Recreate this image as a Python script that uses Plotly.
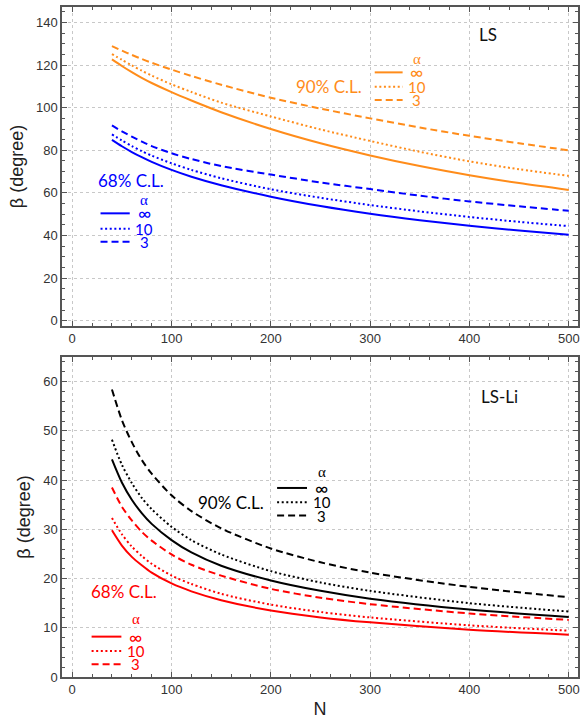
import plotly.graph_objects as go

# ---------------- data ----------------
N_TOP = [40, 50, 60, 70, 80, 100, 120, 150, 200, 250, 300, 350, 400, 450, 500]
LS_90_INF = [122.7, 119.6, 116.7, 114.0, 111.6, 107.3, 103.4, 97.9, 90.0, 83.3, 77.6, 72.6, 68.3, 64.6, 61.4]
LS_90_10 = [125.2, 122.5, 119.9, 117.4, 115.1, 111.0, 107.4, 102.4, 95.9, 89.8, 84.4, 79.3, 74.8, 71.1, 68.0]
LS_90_3 = [128.9, 126.8, 124.8, 122.9, 121.1, 117.9, 114.9, 110.8, 104.7, 99.6, 95.0, 90.7, 86.8, 83.3, 80.0]
LS_68_INF = [84.9, 81.9, 79.2, 76.8, 74.6, 70.8, 67.6, 63.6, 58.2, 53.8, 50.2, 47.2, 44.6, 42.3, 40.3]
LS_68_10 = [87.5, 84.6, 82.0, 79.6, 77.5, 73.9, 70.8, 66.9, 61.7, 57.7, 54.3, 51.3, 48.7, 46.4, 44.4]
LS_68_3 = [91.7, 88.9, 86.4, 84.1, 82.0, 78.6, 75.9, 72.6, 68.6, 64.9, 61.8, 58.7, 56.0, 53.7, 51.6]

N_BOT = [40, 50, 60, 70, 80, 100, 120, 150, 200, 250, 300, 400, 500]
LSLI_90_3 = [58.4, 52.2, 47.7, 44.1, 41.3, 36.9, 33.7, 30.2, 26.1, 23.3, 21.2, 18.3, 16.2]
LSLI_90_10 = [48.2, 43.1, 39.4, 36.4, 34.1, 30.5, 27.8, 24.9, 21.5, 19.2, 17.5, 15.0, 13.3]
LSLI_90_INF = [44.2, 39.5, 36.0, 33.3, 31.1, 27.8, 25.3, 22.6, 19.6, 17.5, 15.9, 13.7, 12.2]
LSLI_68_3 = [38.5, 34.6, 31.8, 29.5, 27.7, 24.9, 22.8, 20.6, 17.9, 16.1, 14.8, 12.9, 11.6]
LSLI_68_10 = [32.3, 29.0, 26.5, 24.6, 23.0, 20.6, 18.9, 16.9, 14.7, 13.2, 12.1, 10.5, 9.4]
LSLI_68_INF = [29.8, 26.7, 24.4, 22.7, 21.2, 19.0, 17.4, 15.6, 13.5, 12.1, 11.1, 9.6, 8.6]

X_TICKS = [0, 100, 200, 300, 400, 500]
Y_TICKS_TOP = [0, 20, 40, 60, 80, 100, 120, 140]
Y_TICKS_BOT = [0, 10, 20, 30, 40, 50, 60]

ALPHA_LABELS = ["α", "∞", "10", "3"]

ORANGE = "#ff8c1a"
BLUE = "#0000ff"
RED = "#ff0000"
BLACK = "#000000"

DASH = {"inf": "solid", "10": "2px,2.6px", "3": "7px,4px"}

fig = go.Figure()


def add_curve(x, y, color, kind, xa, ya):
    fig.add_trace(go.Scatter(
        x=x, y=y, mode="lines", xaxis=xa, yaxis=ya,
        line=dict(color=color, width=2, dash=DASH[kind], shape="spline", smoothing=0.8),
        showlegend=False, hoverinfo="skip"))


add_curve(N_TOP, LS_90_3, ORANGE, "3", "x", "y")
add_curve(N_TOP, LS_90_10, ORANGE, "10", "x", "y")
add_curve(N_TOP, LS_90_INF, ORANGE, "inf", "x", "y")
add_curve(N_TOP, LS_68_3, BLUE, "3", "x", "y")
add_curve(N_TOP, LS_68_10, BLUE, "10", "x", "y")
add_curve(N_TOP, LS_68_INF, BLUE, "inf", "x", "y")

add_curve(N_BOT, LSLI_90_3, BLACK, "3", "x2", "y2")
add_curve(N_BOT, LSLI_90_10, BLACK, "10", "x2", "y2")
add_curve(N_BOT, LSLI_90_INF, BLACK, "inf", "x2", "y2")
add_curve(N_BOT, LSLI_68_3, RED, "3", "x2", "y2")
add_curve(N_BOT, LSLI_68_10, RED, "10", "x2", "y2")
add_curve(N_BOT, LSLI_68_INF, RED, "inf", "x2", "y2")

TXT_FONT = "Lato, 'Open Sans', sans-serif"
SERIF = "'Liberation Serif', 'DejaVu Serif', serif"


def legend_block(xa, ya, color, title, title_xy, alpha_x, alpha_ys, line_x0, line_x1):
    anns = [dict(x=title_xy[0], y=title_xy[1], xref=xa, yref=ya, text=title,
                 showarrow=False, borderpad=0,
                 font=dict(family=TXT_FONT, size=17, color=color))]
    sizes = {"α": 15, "∞": 18, "10": 15, "3": 15}
    for lab, yy in zip(ALPHA_LABELS, alpha_ys):
        fam = SERIF if lab == "α" else TXT_FONT
        anns.append(dict(x=alpha_x, y=yy, xref=xa, yref=ya, text=lab, showarrow=False,
                         borderpad=0, font=dict(family=fam, size=sizes[lab], color=color)))
    for kind, yy in zip(["inf", "10", "3"], alpha_ys[1:]):
        fig.add_trace(go.Scatter(
            x=[line_x0, line_x1], y=[yy, yy], mode="lines", xaxis=xa, yaxis=ya,
            line=dict(color=color, width=2, dash=DASH[kind]),
            showlegend=False, hoverinfo="skip"))
    return anns


annotations = []
annotations += legend_block("x", "y", ORANGE, "90% C.L.", (258.5, 109.9), 346.7,
                            [123.1, 116.6, 109.9, 103.6], 304.6, 332.7)
annotations += legend_block("x", "y", BLUE, "68% C.L.", (59.6, 65.8), 72.3,
                            [56.7, 50.4, 43.2, 37.1], 28.5, 57.9)
annotations += legend_block("x2", "y2", BLACK, "90% C.L.", (160.2, 35.5), 251.5,
                            [41.7, 38.4, 35.5, 32.8], 206.3, 236.4)
annotations += legend_block("x2", "y2", RED, "68% C.L.", (52.6, 17.3), 63.9,
                            [11.7, 8.2, 5.3, 2.6], 19.5, 49.5)
annotations.append(dict(x=419, y=134.5, xref="x", yref="y", text="LS", showarrow=False,
                        font=dict(family=TXT_FONT, size=17, color="#111")))
annotations.append(dict(x=430, y=56.9, xref="x2", yref="y2", text="LS-Li", showarrow=False,
                        font=dict(family=TXT_FONT, size=17, color="#111")))

AX_COLOR = "#555555"
TICK_FONT = dict(family="Liberation Sans, Arial, sans-serif", size=13, color="#333")


def xaxis_cfg(anchor, title=None):
    d = dict(range=[-10.3, 509.3], anchor=anchor, tickvals=X_TICKS, ticks="inside",
             ticklen=5, tickcolor=AX_COLOR, tickwidth=1, showline=True, linecolor=AX_COLOR,
             linewidth=1.5, mirror="allticks", showgrid=True, gridcolor="#c8c8c8",
             griddash="dot", gridwidth=1, zeroline=False, tickfont=TICK_FONT,
             minor=dict(dtick=20, tick0=0, ticks="inside", ticklen=3, tickcolor=AX_COLOR,
                        showgrid=False))
    if title:
        d["title"] = dict(text=title, font=dict(family="Liberation Sans, Arial", size=18,
                                                  color="#222"), standoff=6)
    return d


def yaxis_cfg(anchor, rng, tickvals, minor_dtick, domain):
    return dict(range=rng, anchor=anchor, domain=domain, tickvals=tickvals, ticks="inside",
                ticklen=5, tickcolor=AX_COLOR, tickwidth=1, showline=True, linecolor=AX_COLOR,
                linewidth=1.5, mirror="allticks", showgrid=True, gridcolor="#c8c8c8",
                griddash="dot", gridwidth=1, zeroline=False, tickfont=TICK_FONT,
                title=dict(text="β (degree)", font=dict(family="Liberation Sans, Arial",
                                                         size=18, color="#222"), standoff=8),
                minor=dict(dtick=minor_dtick, tick0=0, ticks="inside", ticklen=3,
                           tickcolor=AX_COLOR, showgrid=False))


fig.update_layout(
    width=584, height=722,
    margin=dict(l=62, r=4, t=7, b=45),
    paper_bgcolor="white", plot_bgcolor="white",
    xaxis=xaxis_cfg("y"),
    yaxis=yaxis_cfg("x", [-2.5, 147.3], Y_TICKS_TOP, 5, [0.5239, 1.0]),
    xaxis2=xaxis_cfg("y2", "N"),
    yaxis2=yaxis_cfg("x2", [0, 65], Y_TICKS_BOT, 2, [0.0, 0.4776]),
    annotations=annotations,
    showlegend=False,
)

fig.write_html("out.html")
